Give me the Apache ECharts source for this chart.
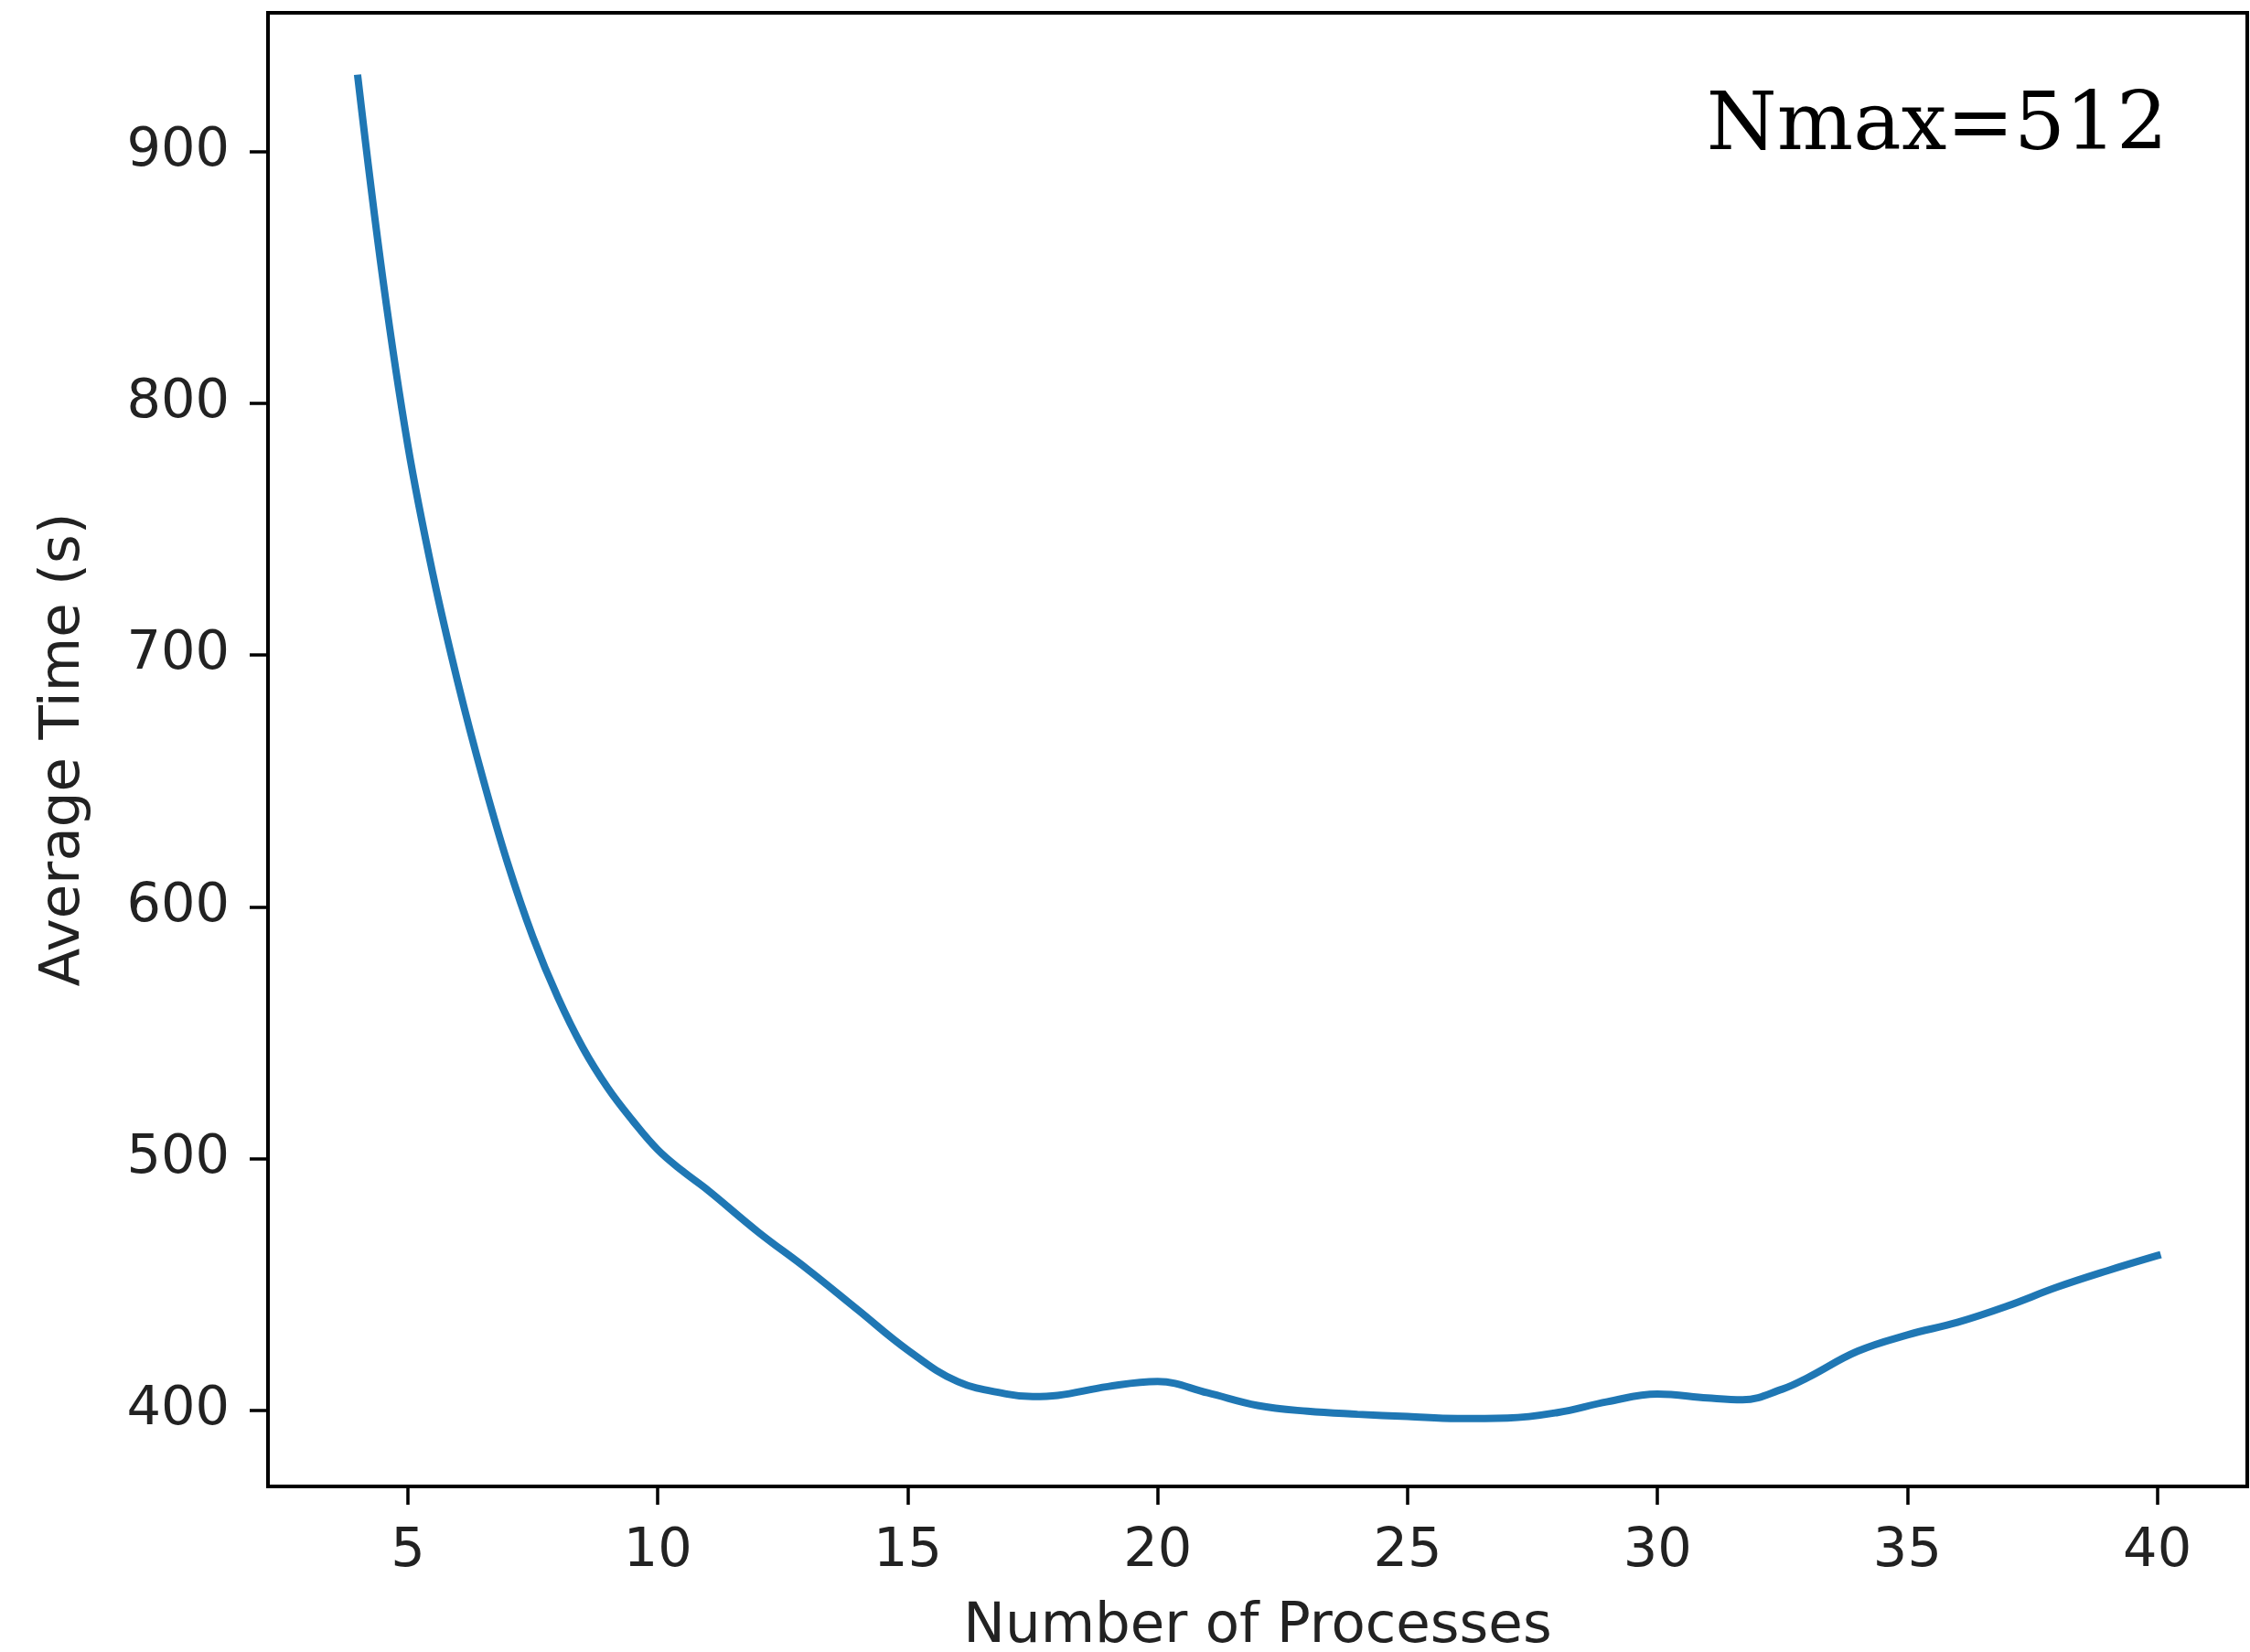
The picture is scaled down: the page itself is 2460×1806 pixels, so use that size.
<!DOCTYPE html>
<html>
<head>
<meta charset="utf-8">
<title>Average Time vs Number of Processes</title>
<script src="https://cdn.jsdelivr.net/npm/echarts@6/dist/echarts.min.js"></script>
<style>
    html, body { margin: 0; padding: 0; background: #fff; }
    #chart { width: 2460px; height: 1806px; }
</style>
</head>
<body>
<div id="chart"></div>
<script>
// 数据
var processes = [4, 4.5, 5, 5.5, 6, 6.5, 7, 7.5, 8, 8.5, 9, 9.5, 10, 10.5, 11, 12, 13, 14, 15, 16, 17, 17.5,
    18, 19, 20, 21, 22, 23, 24, 25, 26, 27, 28, 29, 30, 31, 31.7, 32.5, 33, 34, 35, 36, 37, 38, 39, 40];
var avgTime = [929, 849, 783, 732, 689, 651, 617, 588, 564, 544, 528, 515, 503.5, 495, 487.5, 471, 456, 440, 424, 411.5, 406.5, 405.5,
    406, 409.5, 411.5, 407, 402, 399.7, 398.5, 397.6, 396.8, 397, 399.2, 403.5, 406.5, 405, 404.3, 408.5, 413, 423.5, 430, 435, 441.5, 449, 455.5, 461.5];
var xTicks = [5, 10, 15, 20, 25, 30, 35, 40];
var yTicks = [400, 500, 600, 700, 800, 900];

var seriesData = processes.map(function (p, i) {
    return [p, avgTime[i]];
});

var myChart = echarts.init(document.getElementById('chart'));

var labelStyle = {
    color: '#222',
    fontFamily: 'DejaVu Sans',
    fontSize: 59
};
var nameStyle = {
    color: '#222',
    fontFamily: 'DejaVu Sans',
    fontSize: 61
};

option = {
    backgroundColor: '#fff',
    animation: false,
    grid: {
        left: 293,
        top: 14,
        right: 3,
        bottom: 181,
        outerBoundsMode: 'none',
        show: true,
        borderColor: '#000',
        borderWidth: 4
    },
    xAxis: {
        type: 'value',
        min: 2.2,
        max: 41.8,
        name: 'Number of Processes',
        nameLocation: 'middle',
        nameGap: 124,
        nameTextStyle: nameStyle,
        axisLine: { show: true, onZero: false, lineStyle: { color: '#000', width: 4 } },
        axisTick: { show: true, length: 20, customValues: xTicks, lineStyle: { color: '#000', width: 3.5 } },
        axisLabel: Object.assign({ margin: 42, customValues: xTicks }, labelStyle),
        splitLine: { show: false }
    },
    yAxis: {
        type: 'value',
        min: 369.85,
        max: 955,
        name: 'Average Time (s)',
        nameLocation: 'middle',
        nameGap: 192,
        nameRotate: 90,
        nameTextStyle: nameStyle,
        axisLine: { show: true, onZero: false, lineStyle: { color: '#000', width: 4 } },
        axisTick: { show: true, length: 20, customValues: yTicks, lineStyle: { color: '#000', width: 3.5 } },
        axisLabel: Object.assign({ margin: 42, customValues: yTicks }, labelStyle),
        splitLine: { show: false }
    },
    graphic: [{
        type: 'text',
        right: 90,
        top: 96,
        style: {
            text: 'Nmax=512',
            fill: '#000',
            fontFamily: 'DejaVu Serif',
            fontSize: 88
        }
    }],
    series: [{
        name: 'Average Time',
        type: 'line',
        data: seriesData,
        smooth: 0.4,
        showSymbol: false,
        lineStyle: { color: '#1f77b4', width: 8, cap: 'square' }
    }]
};
myChart.setOption(option);
window.addEventListener('resize', function () {
    myChart.resize();
});
</script>
</body>
</html>
